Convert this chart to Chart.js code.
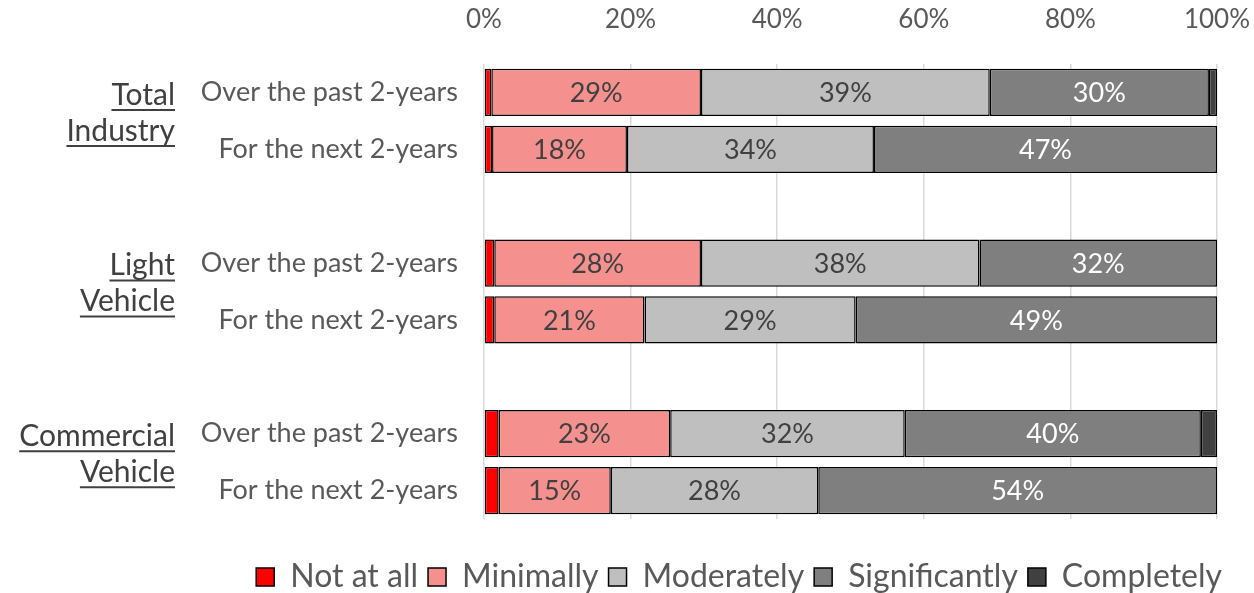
<!DOCTYPE html>
<html>
<head>
<meta charset="utf-8">
<script src="https://cdn.jsdelivr.net/npm/chart.js@4.4.0/dist/chart.umd.min.js"></script>
<style>
  body { margin: 0; background: #fff; }
  #wrap { width: 1254px; height: 593px; position: relative; }
</style>
</head>
<body>
<div id="wrap"><canvas id="grafica"></canvas></div>
<script>
/*----- Datos -----*/
const filas = ['Over the past 2-years', 'For the next 2-years', '',
               'Over the past 2-years', 'For the next 2-years', '',
               'Over the past 2-years', 'For the next 2-years'];
const grupos = [['Total', 'Industry'], ['Light', 'Vehicle'], ['Commercial', 'Vehicle']];
const grupo_inicio = [0, 3, 6];

const not_at_all    = [1.0, 1.1, null, 1.4, 1.4, null, 2.0, 2.0];
const minimally     = [28.6, 18.4, null, 28.2, 20.5, null, 23.4, 15.3];
const moderately    = [39.4, 33.7, null, 38.0, 28.8, null, 32.0, 28.3];
const significantly = [29.9, 46.8, null, 32.4, 49.3, null, 40.4, 54.4];
const completely    = [1.1, 0, null, 0, 0, null, 2.2, 0];

const ticks_x = [0, 20, 40, 60, 80, 100];

const fuente = 'Lato, "Noto Sans", sans-serif';

/*----- Etiquetas dentro de las barras -----*/
const etiquetas = {
  id: 'etiquetas',
  afterDatasetsDraw(chart) {
    const ctx = chart.ctx;
    ctx.save();
    ctx.font = '27px ' + fuente;
    ctx.textAlign = 'center';
    ctx.textBaseline = 'middle';
    [1, 2, 3].forEach(function(d) {
      const meta = chart.getDatasetMeta(d);
      const valores = chart.data.datasets[d].data;
      meta.data.forEach(function(bar, i) {
        if (valores[i] == null) return;
        const p = bar.getProps(['x', 'y', 'base'], true);
        ctx.fillStyle = d === 3 ? '#ffffff' : '#404040';
        ctx.fillText(Math.round(valores[i]) + '%', (p.x + p.base) / 2, p.y + 1);
      });
    });
    ctx.restore();
  }
};

/*----- Nombres de grupo subrayados -----*/
const nombres_grupo = {
  id: 'nombres_grupo',
  afterDraw(chart) {
    const ctx = chart.ctx;
    const y = chart.scales.y;
    ctx.save();
    ctx.font = '30px ' + fuente;
    ctx.fillStyle = '#404040';
    ctx.strokeStyle = '#404040';
    ctx.lineWidth = 2;
    ctx.textAlign = 'right';
    ctx.textBaseline = 'middle';
    grupos.forEach(function(lineas, g) {
      const i = grupo_inicio[g];
      const centro = (y.getPixelForValue(i) + y.getPixelForValue(i + 1)) / 2;
      const posiciones = [centro - 26, centro + 10];
      lineas.forEach(function(texto, k) {
        const yy = posiciones[k];
        ctx.fillText(texto, 175, yy);
        const w = ctx.measureText(texto).width;
        ctx.beginPath();
        ctx.moveTo(175 - w, yy + 15);
        ctx.lineTo(175, yy + 15);
        ctx.stroke();
      });
    });
    ctx.restore();
  }
};

/*----- Leyenda más abajo -----*/
const leyenda_abajo = {
  id: 'leyenda_abajo',
  beforeInit(chart) {
    const fitOriginal = chart.legend.fit;
    chart.legend.fit = function() {
      fitOriginal.call(this);
      this.height = 74;
    };
  },
  afterLayout(chart) {
    const lg = chart.legend;
    lg.top = 551;
    lg.bottom = lg.top + lg.height;
    lg.right = 1232;
    lg.width = lg.right - lg.left;
  }
};

const grafica = document.getElementById('grafica');

new Chart(grafica, {
  type: 'bar',
  data: {
    labels: filas,
    datasets: [
      { label: 'Not at all', data: not_at_all, backgroundColor: '#ff0000' },
      { label: 'Minimally', data: minimally, backgroundColor: '#f4908e' },
      { label: 'Moderately', data: moderately, backgroundColor: '#bfbfbf' },
      { label: 'Significantly', data: significantly, backgroundColor: '#7f7f7f' },
      { label: 'Completely', data: completely, backgroundColor: '#404040' }
    ].map(function(ds) {
      ds.borderColor = '#000000';
      ds.borderWidth = 1.5;
      ds.borderSkipped = false;
      ds.barPercentage = 0.83;
      ds.categoryPercentage = 1;
      return ds;
    })
  },
  options: {
    indexAxis: 'y',
    responsive: true,
    maintainAspectRatio: false,
    animation: false,
    layout: {
      padding: { left: 0, right: 37, top: 0, bottom: 0 }
    },
    scales: {
      x: {
        position: 'top',
        stacked: true,
        min: 0,
        max: 100,
        afterBuildTicks(scale) {
          scale.ticks = ticks_x.map(function(v) { return { value: v }; });
        },
        afterFit(scale) {
          scale.paddingLeft = 0;
          scale.paddingRight = 0;
          scale.height = 64;
        },
        ticks: {
          callback: function(v) { return v + '%'; },
          font: { family: fuente, size: 26, lineHeight: 1 },
          color: '#595959',
          padding: 31
        },
        grid: { color: '#d9d9d9', lineWidth: 1.5, drawTicks: false },
        border: { display: false }
      },
      y: {
        stacked: true,
        afterFit(scale) { scale.width = 484; },
        ticks: {
          font: { family: fuente, size: 27 },
          color: '#595959',
          padding: 26
        },
        grid: { display: false, drawTicks: false },
        border: { display: false }
      }
    },
    plugins: {
      legend: {
        position: 'bottom',
        align: 'end',
        labels: {
          font: { family: fuente, size: 32 },
          color: '#595959',
          boxWidth: 18,
          boxHeight: 18,
          padding: 10
        }
      },
      tooltip: { enabled: false }
    }
  },
  plugins: [etiquetas, nombres_grupo, leyenda_abajo]
});
</script>
</body>
</html>
